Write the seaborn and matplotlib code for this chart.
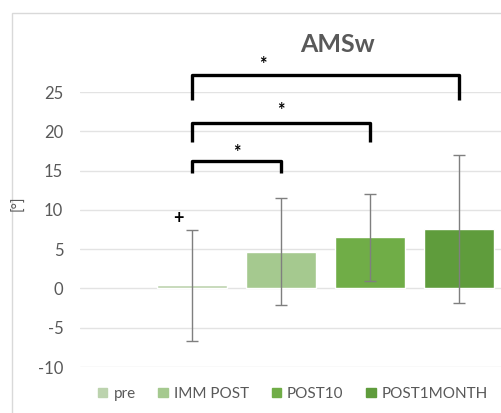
import matplotlib
matplotlib.use('Agg')
import matplotlib.pyplot as plt
import seaborn as sns
import pandas as pd
from matplotlib.patches import Rectangle

# values
conditions = ['pre', 'IMM POST', 'POST10', 'POST1MONTH']
mean_angle = [0.4, 4.7, 6.5, 7.6]
sd_angle = [7.1, 6.8, 5.5, 9.4]
bar_colors = ['#bcd3ae', '#a5c98f', '#70ad47', '#5f9c3c']

# significance brackets: (first, last, top of bracket, bottom of legs)
brackets = [(0, 1, 16.2, 14.7), (0, 2, 21.0, 18.6), (0, 3, 27.2, 24.0)]
star_pos = [(0.5, 17.3), (1.0, 22.6), (0.8, 28.5)]

df = pd.DataFrame({'cond': conditions, 'angle': mean_angle, 'sd': sd_angle})

sns.set_style('white')
plt.rcParams['font.family'] = ['Lato', 'DejaVu Sans']
plt.rcParams['axes.unicode_minus'] = False
grey = '#595959'

fig = plt.figure(figsize=(5.01, 4.13), dpi=100)
ax = fig.add_axes([80 / 501, 46 / 413, 1 - 80 / 501, 275 / 413])

sns.barplot(data=df, x='cond', y='angle', hue='cond', palette=bar_colors,
            width=0.78, dodge=False, legend=False, saturation=1, ax=ax)
ax.errorbar(range(len(conditions)), df['angle'], yerr=df['sd'], fmt='none',
            ecolor='#7f7f7f', elinewidth=1, capsize=4, capthick=1)

ax.set_ylim(-10, 25)
ax.set_xlim(-1.26, 3.47)
ax.set_yticks(range(-10, 26, 5))
ax.yaxis.grid(True, color='#e3e3e3', linewidth=1)
ax.set_axisbelow(True)
for s in ax.spines.values():
    s.set_visible(False)
ax.set_xticks([])
ax.set_xlabel('')
ax.set_ylabel('')
ax.tick_params(axis='y', length=0, pad=12, labelsize=12, labelcolor=grey)

# brackets
for i, j, top, low in brackets:
    ax.plot([i, i, j, j], [low, top, top, low], color='black', lw=2.4,
            solid_joinstyle='round', solid_capstyle='butt', clip_on=False)
for x, y in star_pos:
    ax.text(x, y, '*', ha='center', va='center', fontsize=13,
            fontweight='bold', color='black', clip_on=False)
ax.text(-0.16, 8.9, '+', ha='center', va='center', fontsize=13,
        fontweight='bold', color='black')

fig.text(338 / 501, 1 - 45 / 413, 'AMSw', ha='center', va='center',
         fontsize=18, fontweight='bold', color=grey)
fig.text(18 / 501, 1 - 203 / 413, '[°]', ha='center', va='center',
         rotation=90, fontsize=11, color=grey)

# chart border (cut off at right like the original)
fig.patches.append(Rectangle((12 / 501, -0.1), 1.2, 1 - 13 / 413 + 0.1,
                             transform=fig.transFigure, fill=False,
                             edgecolor='#d9d9d9', lw=1, clip_on=False))

handles = [Rectangle((0, 0), 1, 1, color=c) for c in bar_colors]
fig.legend(handles, conditions, ncol=4, loc='center left',
           bbox_to_anchor=(92 / 501, 1 - 394 / 413), frameon=False,
           borderaxespad=0, handlelength=0.6, handleheight=0.6,
           handletextpad=0.4, columnspacing=1.5, fontsize=11,
           labelcolor=grey)

fig.savefig('out.png', dpi=100)
